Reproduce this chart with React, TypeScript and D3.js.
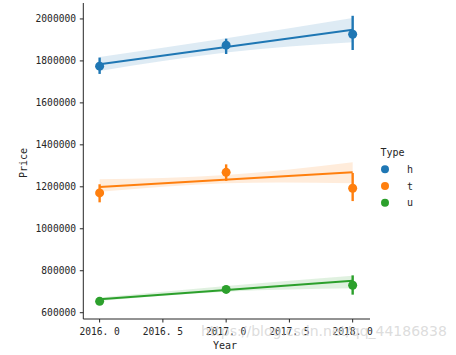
import React from "react";
import * as d3 from "d3";

const years = [2016, 2017, 2018];
const seriesNames = ["h", "t", "u"];
const colors = ["#1f77b4", "#ff7f0e", "#2ca02c"];

// point estimates
const meanH = [1775000, 1875000, 1927000];
const meanT = [1171000, 1269000, 1193000];
const meanU = [654000, 711000, 731000];
// error bars (low, high)
const errLowH = [1738000, 1833000, 1852000];
const errHighH = [1816000, 1906000, 2015000];
const errLowT = [1126000, 1228000, 1132000];
const errHighT = [1212000, 1307000, 1266000];
const errLowU = [641000, 697000, 686000];
const errHighU = [671000, 726000, 778000];
// regression line endpoints at 2016 and 2018
const fitH = [1784000, 1949000];
const fitT = [1199000, 1269000];
const fitU = [664000, 752000];
// confidence band at 2016, 2017, 2018
const bandLowH = [1752000, 1840000, 1889000];
const bandHighH = [1819000, 1908000, 2004000];
const bandLowT = [1176000, 1217000, 1217000];
const bandHighT = [1236000, 1256000, 1317000];
const bandLowU = [656000, 700000, 716000];
const bandHighU = [672000, 727000, 776000];

const yTicks = [600000, 800000, 1000000, 1200000, 1400000, 1600000, 1800000, 2000000];
const xTicks = [2016.0, 2016.5, 2017.0, 2017.5, 2018.0];

export default function App() {
  const W = 456, H = 355;
  const x = d3.scaleLinear().domain([2015.871, 2018.137]).range([83.3, 370]);
  const y = d3.scaleLinear().domain([570000, 2076000]).range([319, 3]);
  const font = "'DejaVu Sans Mono', monospace";

  const series = [
    { mean: meanH, lo: errLowH, hi: errHighH, fit: fitH, bl: bandLowH, bh: bandHighH },
    { mean: meanT, lo: errLowT, hi: errHighT, fit: fitT, bl: bandLowT, bh: bandHighT },
    { mean: meanU, lo: errLowU, hi: errHighU, fit: fitU, bl: bandLowU, bh: bandHighU },
  ];

  const area = d3
    .area<number>()
    .x((_, i) => x(years[i]))
    .curve(d3.curveNatural);

  return (
    <svg width={W} height={H} style={{ position: "absolute", left: 0, top: 0 }}>
      <rect width={W} height={H} fill="#fff" />
      {series.map((s, k) => {
        const c = colors[k];
        const a = area.y0((_, i) => y(s.bl[i])).y1((_, i) => y(s.bh[i]));
        return (
          <g key={k}>
            <path d={a(years) || ""} fill={c} fillOpacity={0.15} stroke="none" />
            <line x1={x(2016)} x2={x(2018)} y1={y(s.fit[0])} y2={y(s.fit[1])} stroke={c} strokeWidth={2} />
            {years.map((yr, i) => (
              <g key={i}>
                <line x1={x(yr)} x2={x(yr)} y1={y(s.lo[i])} y2={y(s.hi[i])} stroke={c} strokeWidth={2.4} />
                <circle cx={x(yr)} cy={y(s.mean[i])} r={4.5} fill={c} />
              </g>
            ))}
          </g>
        );
      })}
      {/* axes */}
      <line x1={83.3} x2={83.3} y1={3} y2={319} stroke="#262626" strokeWidth={1} />
      <line x1={83.3} x2={370} y1={319} y2={319} stroke="#262626" strokeWidth={1} />
      {yTicks.map((t) => (
        <g key={t}>
          <line x1={79.8} x2={83.3} y1={y(t)} y2={y(t)} stroke="#262626" />
          <text x={76} y={y(t)} dy="0.35em" textAnchor="end" fontSize={9.6} fontFamily={font} fill="#262626">
            {t}
          </text>
        </g>
      ))}
      {xTicks.map((t) => (
        <g key={t}>
          <line x1={x(t)} x2={x(t)} y1={319} y2={322.5} stroke="#262626" />
          <text x={x(t)} y={334.5} textAnchor="middle" fontSize={9.6} fontFamily={font} fill="#262626">
            {t.toFixed(1).replace(".", ". ")}
          </text>
        </g>
      ))}
      <text x={225} y={349} textAnchor="middle" fontSize={10} fontFamily={font} fill="#262626">
        Year
      </text>
      <text
        transform="translate(27,163) rotate(-90)"
        textAnchor="middle"
        fontSize={10}
        fontFamily={font}
        fill="#262626"
      >
        Price
      </text>
      {/* legend */}
      <text x={380.5} y={156} fontSize={10} fontFamily={font} fill="#262626">
        Type
      </text>
      {seriesNames.map((n, i) => (
        <g key={n}>
          <circle cx={385} cy={169.3 + i * 16.7} r={4} fill={colors[i]} />
          <text x={407} y={169.3 + i * 16.7} dy="0.35em" fontSize={10} fontFamily={font} fill="#262626">
            {n}
          </text>
        </g>
      ))}
      {/* watermark */}
      <text x={201} y={336} fontSize={14} fontFamily="'DejaVu Sans', sans-serif" fill="#d4d4d4" fillOpacity={0.8}>
        https://blog.csdn.net/qq_44186838
      </text>
    </svg>
  );
}
